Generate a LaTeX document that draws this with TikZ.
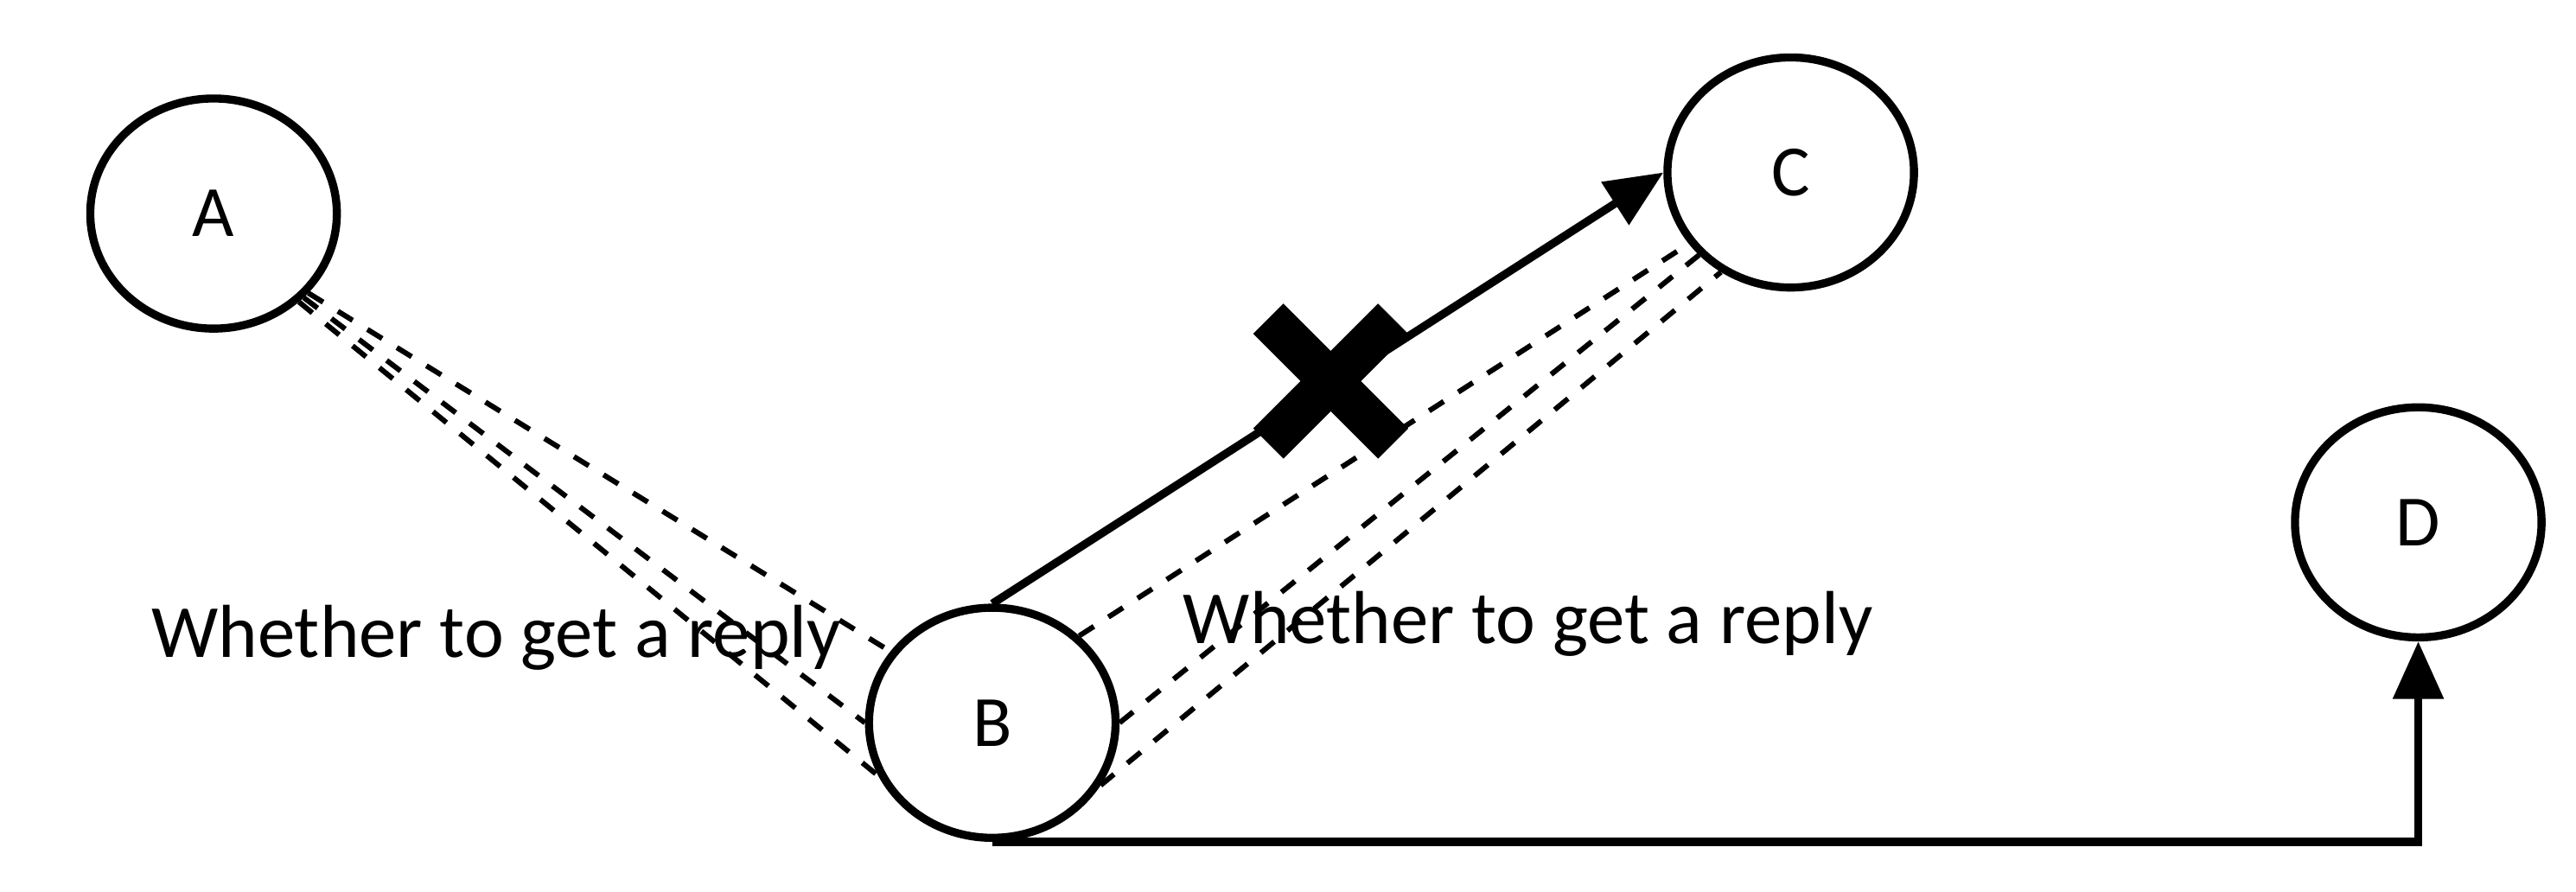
\documentclass[tikz,border=0pt]{standalone}
\usepackage{fontspec}
\setmainfont{Carlito}
\usetikzlibrary{arrows.meta, shapes.geometric}
\begin{document}
\begin{tikzpicture}[x=0.01cm, y=-0.01cm,
                    peer/.style={ellipse, draw, line width=1.4pt, minimum width=1.5cm, minimum height=1.4cm, font=\fontsize{12.5}{15}\selectfont},
                    probe/.style={dashed, line width=0.9pt},
                    link/.style={line width=1.4pt, -{Triangle[length=3.5mm, width=3mm]}},
                    note/.style={font=\fontsize{13}{16}\selectfont}
                   ]
    \useasboundingbox (0,0) rectangle (1568,543);

    % Peers
    \node[peer] (A) at (130,130) {A};
    \node[peer] (B) at (604,440) {B};
    \node[peer] (C) at (1090,105) {C};
    \node[peer] (D) at (1472,318) {D};

    % Probes between peers
    \foreach \a/\b in {-40/145, -43/180, -46/205} {
        \draw[probe] (A.\a) -- (B.\b);
    }
    \foreach \b/\c in {45/215, 0/222, -30/235} {
        \draw[probe] (B.\b) -- (C.\c);
    }

    % Links
    \draw[link] (B.north) -- (C.west);
    \draw[link] (B.south) -| (D.south);

    % Broken link mark
    \coordinate (X) at (810,232);
    \draw[line width=0.26cm] (X) ++(-38,-38) -- ++(76,76);
    \draw[line width=0.26cm] (X) ++(-38,38) -- ++(76,-76);

    % Labels
    \node[note] (q1) at (302,388) {Whether to get a reply};
    \node[note] (q2) at (930,380) {Whether to get a reply};
\end{tikzpicture}
\end{document}
